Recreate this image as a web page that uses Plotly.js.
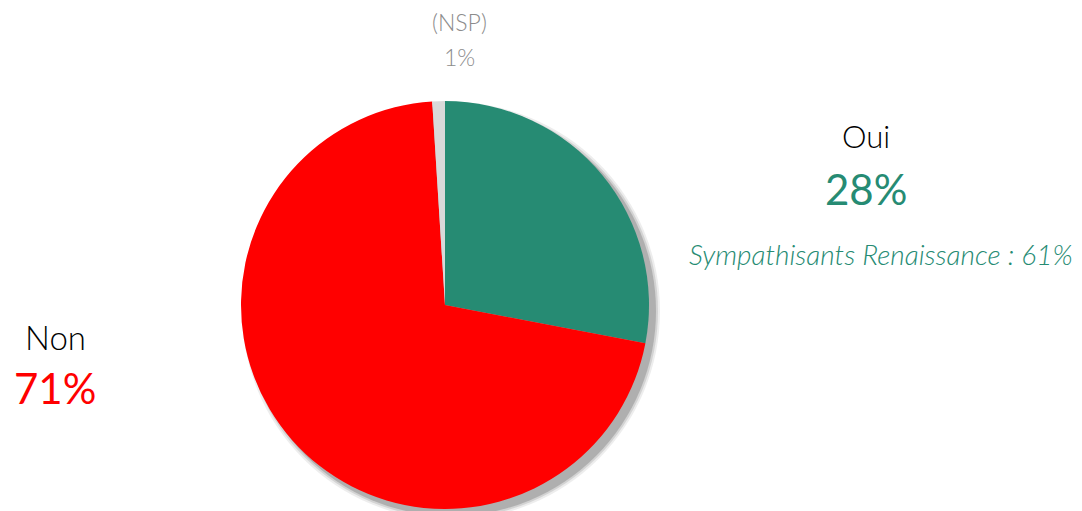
<!DOCTYPE html>
<html><head><meta charset="utf-8">
<script src="https://cdn.plot.ly/plotly-3.0.1.min.js"></script>
<style>html,body{margin:0;padding:0;background:#fff;}#chart{width:1082px;height:511px;}</style>
</head><body><div id="chart"></div>
<script>
const labels = ["Oui", "Non", "(NSP)"];
const values = [28, 71, 1];
const colors = ["#268B73", "#FF0000", "#D9D9D9"];
const subNote = "Sympathisants Renaissance : 61%";

const W = 1082, H = 511;
const cx = 445, cy = 305, R = 204;
const font = "Lato, 'Open Sans', sans-serif";

const shadows = [];
const blur = [[5, 0.12], [3, 0.2], [1, 0.35]];
blur.forEach(([g, op]) => {
  shadows.push({
    type: "circle", layer: "below", xref: "paper", yref: "paper",
    xsizemode: "pixel", ysizemode: "pixel",
    xanchor: cx / W, yanchor: (H - cy) / H,
    x0: -R + 6 - g, x1: R + 6 + g, y0: -R - 6 - g, y1: R - 6 + g,
    fillcolor: "rgba(110,110,110," + op + ")", line: {width: 0}
  });
});

const trace = {
  type: "pie", labels: labels, values: values, sort: false,
  direction: "clockwise", rotation: 0,
  marker: {colors: colors, line: {width: 0}},
  textinfo: "none", hoverinfo: "label+percent",
  domain: {x: [(cx - R) / W, (cx + R) / W], y: [(H - cy - R) / H, (H - cy + R) / H]},
  showlegend: false
};

const pct = v => Math.round(v / values.reduce((a, b) => a + b, 0) * 100) + "%";
function ann(text, x, y, size, color, italic, weight) {
  return {text: text, xref: "paper", yref: "paper", x: x / W, y: 1 - y / H,
    xanchor: "center", yanchor: "middle", showarrow: false,
    font: {family: font, size: size, color: color, weight: weight || 300, style: italic ? "italic" : "normal"}};
}

const layout = {
  width: W, height: H, margin: {l: 0, r: 0, t: 0, b: 0},
  paper_bgcolor: "#fff", plot_bgcolor: "#fff",
  shapes: shadows,
  annotations: [
    ann(labels[2], 459, 22, 23, "#8C8C8C"),
    ann(pct(values[2]), 459, 57, 23, "#8C8C8C"),
    ann(labels[0], 866, 136, 31, "#000"),
    ann(pct(values[0]), 866, 189, 42, colors[0], false, 400),
    ann(subNote, 881, 254, 28, colors[0], true),
    ann(labels[1], 55, 337, 33, "#000"),
    ann(pct(values[1]), 55, 388, 42, colors[1], false, 400)
  ]
};
Plotly.newPlot("chart", [trace], layout, {displayModeBar: false, staticPlot: true});
</script></body></html>
